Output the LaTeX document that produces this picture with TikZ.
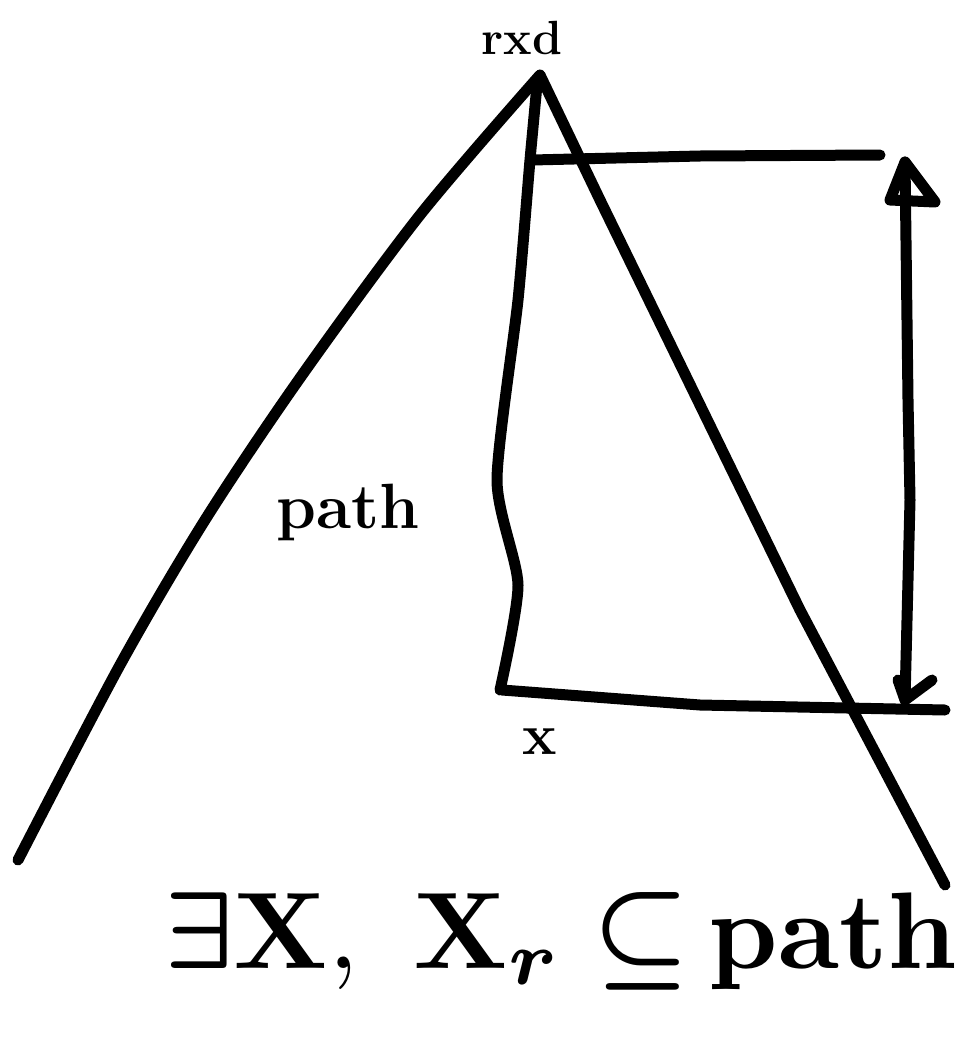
\documentclass[tikz,border=0pt]{standalone}
\usepackage{amsmath,amssymb,bm}
\usetikzlibrary{arrows.meta}
\begin{document}
\begin{tikzpicture}[x=1pt,y=-1pt,
  ink/.style={line width=11pt,line cap=round,line join=round,black},
  lbl/.style={inner sep=0pt,anchor=center}]
\useasboundingbox (0,0) rectangle (977,1044);
% outer triangle
\coordinate (apex) at (540,75);
\draw[ink] plot[smooth,tension=0.5] coordinates {(18,860) (120,665) (205,520) (300,378) (420,215) (540,75)};
\draw[ink] (apex) -- (600,200) -- (700,405) -- (800,610) -- (945,885);
% inner region
\coordinate (tl) at (532,160);
\coordinate (bl) at (502,690);
\draw[ink] plot[smooth,tension=0.4] coordinates {(537,85) (530,160) (518,300) (497,480) (518,585) (500,690)};
\draw[ink] (tl) -- (700,156) -- (880,155);
\draw[ink] (bl) -- (700,705) -- (945,710);
% double arrow
\coordinate (atop) at (905,162);
\coordinate (abot) at (905,700);
\draw[ink] (atop) -- (908,400) -- (910,500) -- (abot);
\draw[ink] (905,162) -- (890,200) -- (935,202) -- cycle;
\draw[ink] (898,680) -- (905,700) -- (932,680);
% labels
\node[lbl] (root) at (522,38) {\fontsize{48}{50}\selectfont\bfseries rxd};
\node[lbl] (path) at (348,512) {\fontsize{64}{66}\selectfont\bfseries path};
\node[lbl] (x) at (540,742) {\fontsize{58}{60}\selectfont\bfseries x};
\node[lbl,anchor=base west,scale=10.9] (formula) at (162,968) {$\bm{\exists}\mathbf{X},\ \mathbf{X}_{\bm r}\bm{\subseteq}$\,\textbf{path}};
\end{tikzpicture}
\end{document}
